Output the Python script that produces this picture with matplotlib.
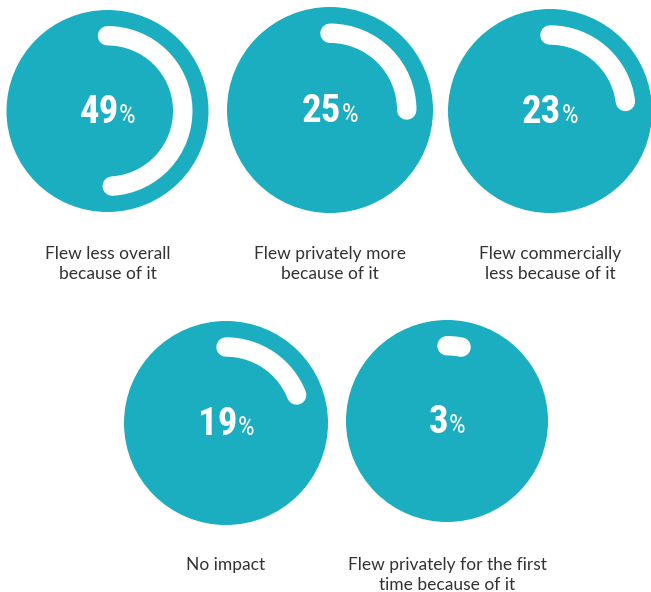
import matplotlib
matplotlib.use("Agg")
import matplotlib.pyplot as plt
from matplotlib.patches import Circle, Arc

# Share of respondents per answer
labels = [
    "Flew less overall\nbecause of it",
    "Flew privately more\nbecause of it",
    "Flew commercially\nless because of it",
    "No impact",
    "Flew privately for the first\ntime because of it",
]
percents = [49, 25, 23, 19, 3]

# Circle centres (pixels, y measured from top), radii and label tops
centers = [(107.5, 111), (330, 110), (550, 111), (226, 423), (447, 421)]
radii = [101, 103, 102, 102, 101]
label_top = [246, 246, 246, 557, 557]

TEAL = "#1BAEC0"
TEXT = "#333333"
W, H = 651, 592

fig = plt.figure(figsize=(W / 100, H / 100), dpi=100)
ax = fig.add_axes([0, 0, 1, 1])
ax.set_xlim(0, W)
ax.set_ylim(0, H)
ax.set_aspect("equal")
ax.axis("off")

renderer = fig.canvas.get_renderer()

for lab, pct, (cx, cy), r, ly in zip(labels, percents, centers, radii, label_top):
    y = H - cy
    ax.add_patch(Circle((cx, y), r, color=TEAL, lw=0))

    # progress ring, clockwise from 12 o'clock
    ring_r = 0.745 * r
    ax.add_patch(Arc((cx, y), 2 * ring_r, 2 * ring_r,
                     theta1=90 - 3.6 * pct, theta2=90,
                     color="white", lw=14, capstyle="round"))

    # big number + smaller percent sign, centred as one block
    num = ax.text(0, 0, str(pct), fontsize=28, fontweight="bold",
                  family="Roboto Condensed", color="white",
                  ha="left", va="baseline")
    sign = ax.text(0, 0, "%", fontsize=19, family="Roboto Condensed",
                   color="white", ha="left", va="baseline")
    wn = num.get_window_extent(renderer).width
    ws = sign.get_window_extent(renderer).width
    x0 = cx - (wn + ws) / 2
    base = y - 12
    num.set_position((x0, base))
    sign.set_position((x0 + wn, base))

    ax.text(cx, H - ly, lab, fontsize=12.5, family="Lato", color=TEXT,
            ha="center", va="top", linespacing=1.3)

fig.savefig("out.png", dpi=100, facecolor="white")
